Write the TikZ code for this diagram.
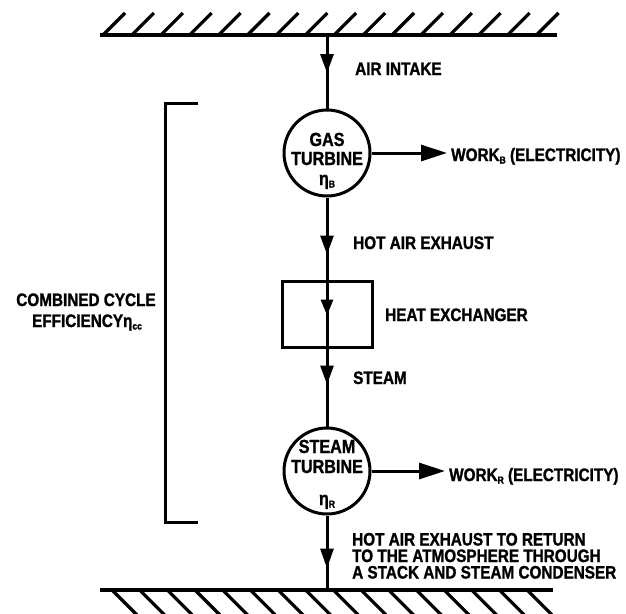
\documentclass[tikz,border=0pt]{standalone}
\usepackage{fontspec}
\setmainfont{Liberation Sans}[FakeStretch=0.85,FakeBold=1.3]
\usetikzlibrary{arrows.meta,decorations.markings}
\newcommand\lowsub[1]{\raisebox{-2.5pt}{\fontsize{10}{10}\selectfont #1}}
\newcommand\lblfont{\fontsize{18}{18}\selectfont\bfseries}
\newcommand\turbfont{\fontsize{19}{19}\selectfont\bfseries}
\tikzset{
  lbl/.style={font=\lblfont, inner sep=0pt, anchor=base west},
  ctext/.style={font=\lblfont, inner sep=0pt, anchor=base},
  ttext/.style={font=\turbfont, inner sep=0pt, anchor=base},
  pipe/.style={line width=3pt},
  ground/.style={line width=3.6pt},
  hatch/.style={line width=3.2pt},
  turbine/.style={circle, draw, line width=3pt, minimum size=86pt, inner sep=0pt},
  exch/.style={rectangle, draw, line width=3pt, minimum width=90pt, minimum height=66pt, inner sep=0pt},
  midarrow/.style n args={3}{postaction={decorate}, decoration={markings,
     mark=at position #1 with {\arrow{Triangle[length=#2,width=#3]}}}},
  workarrow/.style={pipe, -{Triangle[length=26pt,width=16pt]}}
}
\begin{document}
\begin{tikzpicture}[x=1pt,y=-1pt]
\useasboundingbox (0,0) rectangle (626,613);

% ground lines
\draw[ground] (100,35) -- (557,35);
\foreach \k in {0,...,15} \draw[hatch] ({103+28.9*\k},35) -- ({125+28.9*\k},13);
\draw[ground] (100,590) -- (553,590);
\foreach \k in {0,...,15} \draw[hatch] ({113+27.67*\k},591) -- ({137+27.67*\k},615);

\coordinate (topg) at (327,35);
\coordinate (botg) at (327,590);

% components
\node[turbine] (gt) at (327,153) {};
\node[exch] (hx) at (327,314) {};
\node[turbine] (st) at (327,471) {};

\node[ttext] (gt1) at (327,146) {GAS};
\node[ttext] (gt2) at (327,165) {TURBINE};
\node[ttext] (gt3) at (327,185) {η\lowsub{B}};
\node[ttext] (st1) at (327,453) {STEAM};
\node[ttext] (st2) at (327,473) {TURBINE};
\node[ttext] (st3) at (327,505) {η\lowsub{R}};

% flow lines
\draw[pipe, midarrow={38pt}{19pt}{13pt}] (topg) -- (gt);
\draw[pipe, midarrow={57pt}{19pt}{13pt}] (gt) -- (hx);
\draw[pipe, midarrow={36pt}{16pt}{12pt}] (hx.north) -- (hx.south);
\draw[pipe, midarrow={36pt}{19pt}{13pt}] (hx) -- (st);
\draw[pipe, midarrow={53pt}{20pt}{13pt}] (st) -- (botg);

% labels
\node[lbl] (air) at (355,75) {AIR INTAKE};
\node[lbl] (hae) at (353,249) {HOT AIR EXHAUST};
\node[lbl] (hxl) at (385,321) {HEAT EXCHANGER};
\node[lbl] (stm) at (353,384) {STEAM};
\node[lbl, inner xsep=4pt] (wb) at (447,161) {WORK\lowsub{B} (ELECTRICITY)};
\node[lbl, inner xsep=4pt] (wr) at (445,481) {WORK\lowsub{R} (ELECTRICITY)};
\node[lbl, align=left, font=\fontsize{18}{16.5}\selectfont\bfseries] (exh) at (352,578.5)
  {HOT AIR EXHAUST TO RETURN\\TO THE ATMOSPHERE THROUGH\\A STACK AND STEAM CONDENSER};

\draw[workarrow] (gt.east) -- (gt.east -| wb.west);
\draw[workarrow] (st.east) -- (st.east -| wr.west);

% combined cycle bracket
\draw[pipe] (198,103) -- (165,103) -- (165,522) -- (198,522);
\node[ctext] (cc1) at (86,306) {COMBINED CYCLE};
\node[ctext] (cc2) at (87,327) {EFFICIENCYη\lowsub{cc}};
\end{tikzpicture}
\end{document}
